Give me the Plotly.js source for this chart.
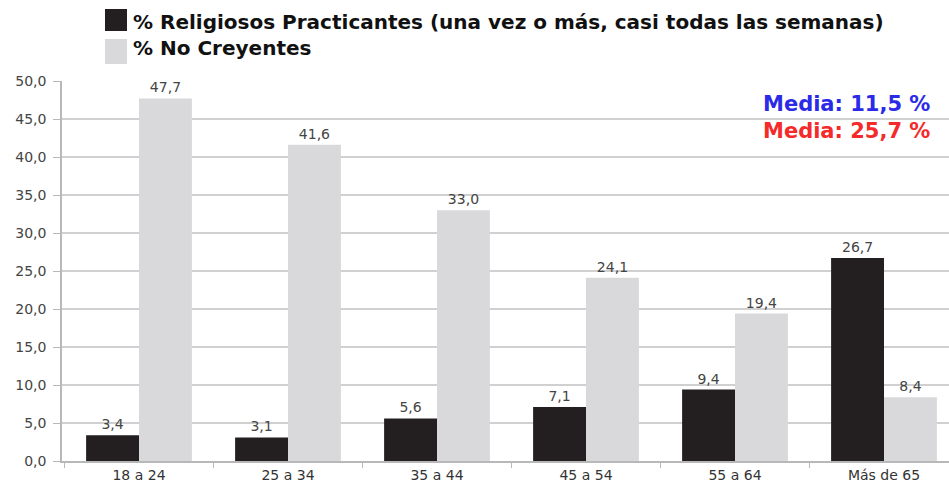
<!DOCTYPE html>
<html><head><meta charset="utf-8">
<script src="https://cdn.plot.ly/plotly-3.0.1.min.js"></script>
<style>body{margin:0;background:#fff}#c{width:949px;height:483px}</style>
</head><body><div id="c"></div>
<script>
const categories = ["18 a 24","25 a 34","35 a 44","45 a 54","55 a 64","Más de 65"];
const practicantes = [3.4, 3.1, 5.6, 7.1, 9.4, 26.7];
const noCreyentes = [47.7, 41.6, 33.0, 24.1, 19.4, 8.4];
const seriesNames = ["% Religiosos Practicantes (una vez o más, casi todas las semanas)", "% No Creyentes"];
const mediaLabels = ["Media: 11,5 %", "Media: 25,7 %"];
const darkColor = "#231f20", lightColor = "#d9d9db";

const L = 62, W = 887, T = 81, H = 380;
const px = x => (x - L) / W;
const py = y => (T + H - y) / H;
const catW = 149, firstCenter = 139;
const x0 = -0.5 - (firstCenter - catW / 2 - L) / catW;

const lblFont = {family: "DejaVu Sans", size: 14, color: "#444"};
const traces = [
  {type: "bar", x: categories, y: practicantes, name: seriesNames[0], marker: {color: darkColor},
   texttemplate: "%{y:.1f}", textposition: "outside", textfont: lblFont, cliponaxis: false},
  {type: "bar", x: categories, y: noCreyentes, name: seriesNames[1], marker: {color: lightColor},
   texttemplate: "%{y:.1f}", textposition: "outside", textfont: lblFont, cliponaxis: false}
];
const legFont = {family: "DejaVu Sans", size: 20, color: "#111", weight: "bold"};
const layout = {
  width: 949, height: 483,
  margin: {l: L, r: 0, t: T, b: 483 - T - H},
  paper_bgcolor: "#fff", plot_bgcolor: "#fff",
  separators: ",.",
  showlegend: false,
  barmode: "group", bargap: 0.29, bargroupgap: 0,
  xaxis: {range: [x0, x0 + W / catW], showgrid: false, ticks: "outside", tickson: "boundaries",
          ticklen: 5, tickcolor: "#b8b8b8", showline: true, linecolor: "#b8b8b8", linewidth: 1.5,
          tickfont: {family: "DejaVu Sans", size: 14, color: "#333"}},
  yaxis: {range: [0, 50], dtick: 5, tickformat: ".1f", showgrid: true, gridcolor: "#d0d0d0", gridwidth: 1.5,
          ticks: "outside", ticklen: 7, tickcolor: "#b8b8b8", showline: true, linecolor: "#b8b8b8", linewidth: 1.5,
          ticklabelstandoff: 4,
          zeroline: false, tickfont: {family: "DejaVu Sans", size: 14, color: "#444"}},
  shapes: [
    {type: "rect", xref: "paper", yref: "paper", x0: px(105), x1: px(127),
     y0: py(31), y1: py(9), fillcolor: darkColor, line: {width: 0}},
    {type: "rect", xref: "paper", yref: "paper", x0: px(105), x1: px(127),
     y0: py(64), y1: py(39), fillcolor: lightColor, line: {width: 0}}
  ],
  annotations: [
    {xref: "paper", yref: "paper", x: px(131), y: py(22), xanchor: "left", yanchor: "middle",
     text: seriesNames[0], showarrow: false, font: legFont},
    {xref: "paper", yref: "paper", x: px(131), y: py(48), xanchor: "left", yanchor: "middle",
     text: seriesNames[1], showarrow: false, font: legFont},
    {xref: "paper", yref: "paper", x: px(932), y: py(104), xanchor: "right", yanchor: "middle",
     text: mediaLabels[0], showarrow: false, font: {family: "DejaVu Sans", size: 21, color: "#2a2ae8", weight: "bold"}},
    {xref: "paper", yref: "paper", x: px(932), y: py(131), xanchor: "right", yanchor: "middle",
     text: mediaLabels[1], showarrow: false, font: {family: "DejaVu Sans", size: 21, color: "#f52a2a", weight: "bold"}}
  ]
};
Plotly.newPlot("c", traces, layout, {displayModeBar: false});
</script></body></html>
